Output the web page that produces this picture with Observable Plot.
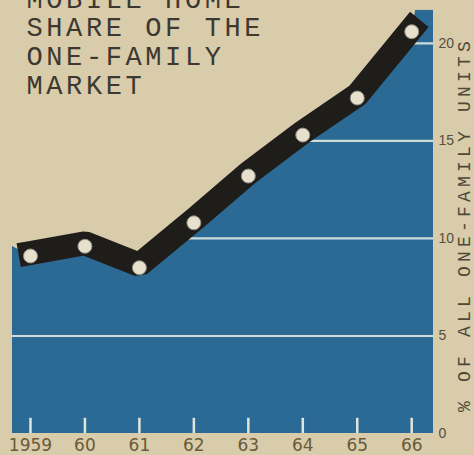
<!DOCTYPE html>
<html><head><meta charset="utf-8">
<script src="https://cdn.jsdelivr.net/npm/d3@7"></script>
<script src="https://cdn.jsdelivr.net/npm/@observablehq/plot@0.6"></script>
<style>
html,body{margin:0;padding:0;background:#d8ccab;}
#chart svg{display:block;}
</style></head><body><div id="chart"></div>
<script>
const years = [1959, 1960, 1961, 1962, 1963, 1964, 1965, 1966];
const share = [9.1, 9.6, 8.5, 10.8, 13.2, 15.3, 17.2, 20.6];
const yearLabels = ["1959", "60", "61", "62", "63", "64", "65", "66"];
const areaYears = [1958.67, 1959, 1960, 1961, 1962, 1963, 1964, 1965, 1966, 1966.07, 1966.4];
const areaTop = [9.6, 9.1, 9.6, 8.5, 10.8, 13.2, 15.3, 17.2, 20.6, 21.7, 21.7];
const gridValues = [5, 10, 15, 20];
const yTicks = [0, 5, 10, 15, 20];
const titleText = "MOBILE HOME\nSHARE OF THE\nONE-FAMILY\nMARKET";
const yTitle = "% OF ALL ONE-FAMILY UNITS";

const BEIGE = "#d8ccab";
const BLUE = "#2b6a94";
const BAND = "#1f1d1a";
const TEXT = "#4a4336";

const lineData = years.map((y, i) => ({year: y, value: share[i]}));
const areaData = areaYears.map((y, i) => ({year: y, top: areaTop[i]}));
const yMax = 22.2;

const chart = Plot.plot({
  width: 474,
  height: 455,
  marginLeft: 12,
  marginRight: 41,
  marginTop: 0,
  marginBottom: 22,
  x: {domain: [1958.67, 1966.4]},
  y: {domain: [0, yMax]},
  style: {background: BEIGE, color: TEXT, overflow: "hidden"},
  marks: [
    Plot.areaY(areaData, {x: "year", y1: 0, y2: "top", fill: BLUE}),
    Plot.ruleY(gridValues, {stroke: "#cfdcdc", strokeWidth: 2.2}),
    Plot.areaY(areaData, {x: "year", y1: "top", y2: yMax, fill: BEIGE}),
    Plot.ruleX(years, {y1: 0, y2: 0.78, stroke: "#dfe4dc", strokeWidth: 2.5}),
    Plot.line(lineData, {x: "year", y: "value", stroke: BAND, strokeWidth: 24,
      strokeLinecap: "square", strokeLinejoin: "miter", dy: -3}),
    Plot.dot(lineData, {x: "year", y: "value", r: 7, fill: "#e6e0cc", stroke: "#8f8d84", strokeWidth: 1}),
    Plot.axisX(years, {tickSize: 0, tickPadding: 5, fontSize: 17, fontFamily: "DejaVu Sans",
      fill: "#6a5a3a", tickFormat: d => yearLabels[years.indexOf(d)], label: null}),
    Plot.axisY(yTicks, {anchor: "right", tickSize: 0, tickPadding: 5, fontSize: 14,
      fontFamily: "Liberation Sans", fill: "#55503f", label: null}),
    Plot.text([titleText], {frameAnchor: "top-left", dx: 14, dy: -13, lineAnchor: "top",
      lineHeight: 1.06, fontSize: 27, fontFamily: "Liberation Mono", fill: "#3d3830", textAnchor: "start"}),
    Plot.text([yTitle], {frameAnchor: "right", rotate: -90, dx: 31, dy: 7.5, fontSize: 18,
      fontFamily: "Liberation Mono", fill: "#4f4838", textAnchor: "middle"})
  ]
});

d3.select(chart).selectAll("text").each(function() {
  if (this.textContent === yTitle) this.setAttribute("letter-spacing", "4.2");
  if (this.parentNode && this.parentNode.textContent === titleText.replace(/\n/g, "")) this.setAttribute("letter-spacing", "3.6");
});
document.getElementById("chart").appendChild(chart);
</script>
</body></html>
